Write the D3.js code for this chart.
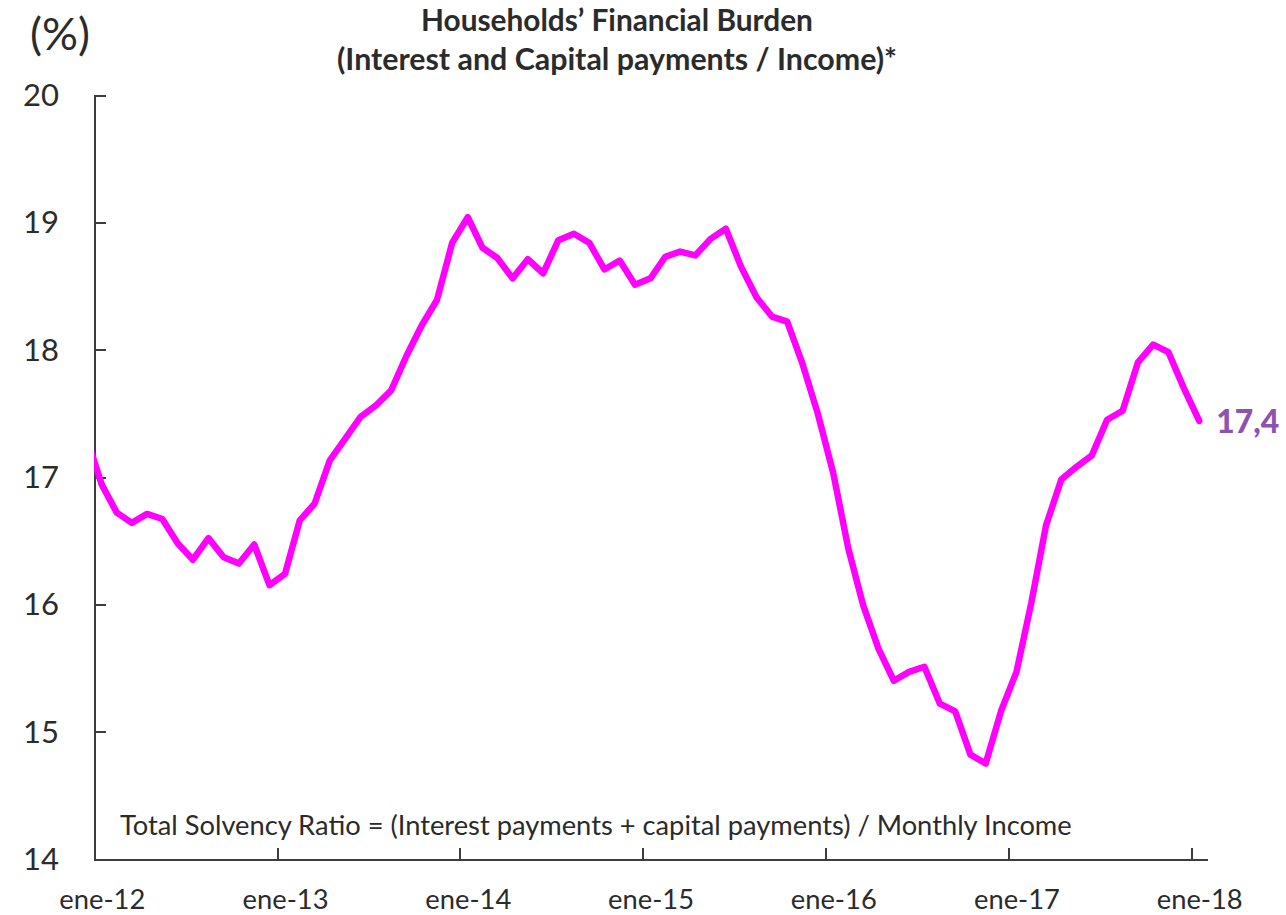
<!DOCTYPE html>
<html>
<head>
<meta charset="utf-8">
<style>
  *{margin:0;padding:0;box-sizing:border-box}
  body{background:#fff;width:1286px;height:915px;overflow:hidden}
  svg{display:block}
  text{font-family:Lato,"Open Sans","Noto Sans",sans-serif;fill:#2b2b2b}
</style>
</head>
<body>
<svg id="g"></svg>
<script src="https://cdn.jsdelivr.net/npm/d3@7/dist/d3.min.js"></script>
<script>
// Monthly series, dic-11 .. ene-18 (dic-11 only feeds the clipped lead-in at the axis)
const FIRST_MONTH = [2011, 11];
const BURDEN = [
  17.32,
  16.94,16.72,16.64,16.71,16.67,16.48,16.35,16.52,16.37,16.32,16.47,16.15, // 2012
  16.24,16.66,16.79,17.13,17.30,17.47,17.56,17.68,17.95,18.19,18.39,18.84, // 2013
  19.04,18.80,18.72,18.56,18.71,18.60,18.86,18.91,18.84,18.63,18.70,18.51, // 2014
  18.56,18.73,18.77,18.74,18.87,18.95,18.65,18.41,18.26,18.22,17.89,17.50, // 2015
  17.03,16.44,15.99,15.65,15.40,15.47,15.51,15.22,15.16,14.82,14.75,15.16, // 2016
  15.47,16.01,16.62,16.98,17.08,17.17,17.45,17.52,17.90,18.04,17.98,17.70, // 2017
  17.44                                                                    // 2018
];
const YEAR_TICKS = [2012,2013,2014,2015,2016,2017,2018];
const YEAR_LABELS = ['ene-12','ene-13','ene-14','ene-15','ene-16','ene-17','ene-18'];
const Y_TICKS = [14,15,16,17,18,19,20];
const LAST_LABEL = '17,4';

const TITLE = ['Households\u2019 Financial Burden','(Interest and Capital payments / Income)*'];
const UNIT = '(%)';
const NOTE = 'Total Solvency Ratio = (Interest payments + capital payments) / Monthly Income';

const W=1286, H=915;
const X0=94, X1=1207, YT=95, YB=859;
const AXIS='#3d3d3d', LINE='#ff00ff', LABEL='#8e53b0';

const svg=d3.select('#g').attr('width',W).attr('height',H);

const x=d3.scaleTime().domain([new Date(2012,0,1), new Date(2018,1,1)]).range([X0,X1]);
const y=d3.scaleLinear().domain([14,20]).range([YB,YT]);

const months=BURDEN.map((v,i)=>new Date(FIRST_MONTH[0],FIRST_MONTH[1]+i,1));
const mid=d=>(x(d)+x(d3.timeMonth.offset(d,1)))/2;
const pts=months.map((d,i)=>({d,v:BURDEN[i]}));

// shrink/grow a text so its width matches what the reference shows
function fit(sel,base,target){
  sel.style('font-size',base+'px');
  const w=sel.node().getComputedTextLength();
  sel.style('font-size',(base*target/w).toFixed(2)+'px');
}

// axes
const gy=svg.append('g').attr('transform',`translate(${X0},0)`)
  .call(d3.axisLeft(y).tickValues(Y_TICKS).tickSizeInner(-12).tickSizeOuter(0).tickPadding(35).tickFormat(d3.format('d')));
const gx=svg.append('g').attr('transform',`translate(0,${YB})`)
  .call(d3.axisBottom(x).tickValues(YEAR_TICKS.map(yr=>new Date(yr,0,1))).tickSizeInner(-11).tickSizeOuter(0)
    .tickFormat((d,i)=>YEAR_LABELS[i]));

[gy,gx].forEach(g=>{
  g.selectAll('path,line').attr('stroke',AXIS).attr('stroke-width',2).attr('shape-rendering','crispEdges');
  g.selectAll('text').attr('fill','#2b2b2b').style('font-family','Lato,"Open Sans",sans-serif');
});
gy.selectAll('.tick text').each(function(){ fit(d3.select(this),34,36); });
gy.selectAll('.tick text').attr('dy','0.34em');
gx.selectAll('.tick text').each(function(){ fit(d3.select(this),30,86); })
  .attr('x',d=>mid(d)-x(d)).attr('y',50).attr('dy',0);

// series
svg.append('defs').append('clipPath').attr('id','plot')
  .append('rect').attr('x',X0).attr('y',0).attr('width',X1-X0).attr('height',H);

svg.append('path').datum(pts)
  .attr('clip-path','url(#plot)')
  .attr('fill','none').attr('stroke',LINE).attr('stroke-width',6.5)
  .attr('stroke-linejoin','round').attr('stroke-linecap','round')
  .attr('d',d3.line().x(p=>mid(p.d)).y(p=>y(p.v)));

// end value label
const last=pts[pts.length-1];
const lt=svg.append('text').text(LAST_LABEL)
  .attr('x',mid(last.d)+17).attr('y',y(last.v)+12)
  .attr('font-weight',900).style('fill',LABEL);
fit(lt,32,63);

// title
const t1=svg.append('text').text(TITLE[0]).attr('x',617).attr('y',31)
  .attr('text-anchor','middle').attr('font-weight',700);
fit(t1,24,392);
const t2=svg.append('text').text(TITLE[1]).attr('x',617).attr('y',70)
  .attr('text-anchor','middle').attr('font-weight',700);
fit(t2,24,560);

// unit
const u=svg.append('text').text(UNIT).attr('x',30).attr('y',50);
fit(u,34,60);

// formula note
const n=svg.append('text').text(NOTE).attr('x',120).attr('y',835);
fit(n,26,952);
</script>
</body>
</html>
